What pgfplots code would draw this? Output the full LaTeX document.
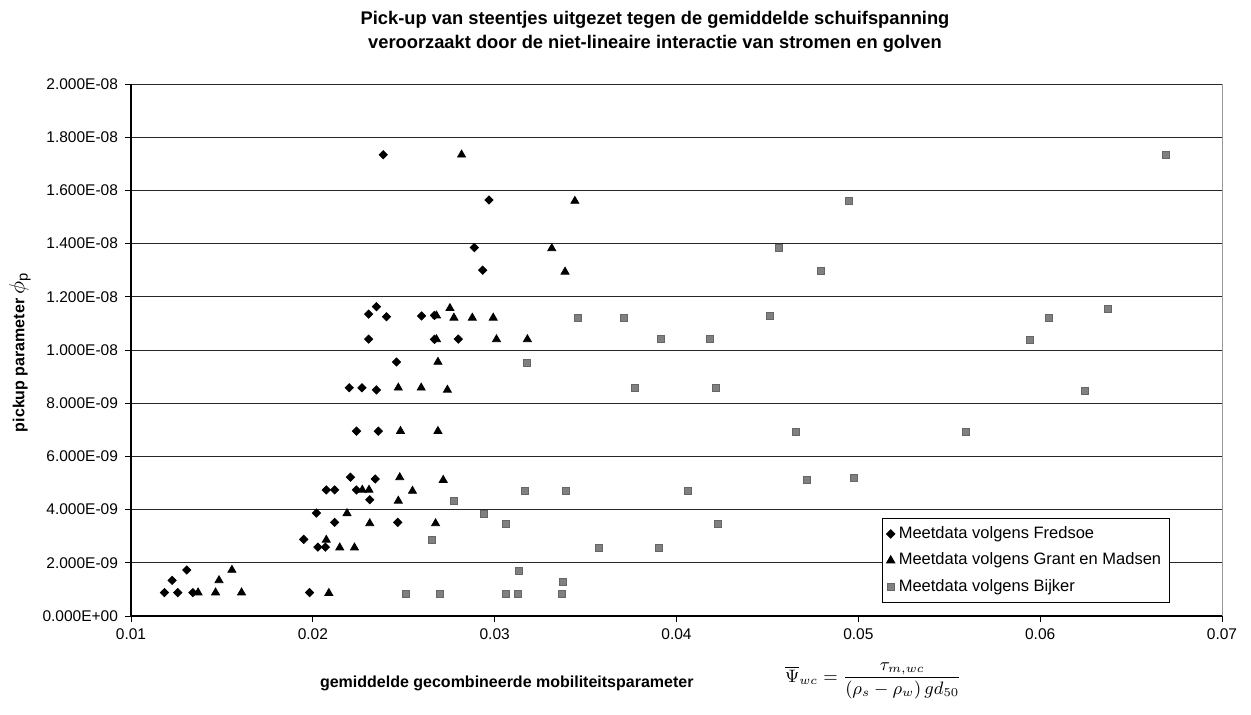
\documentclass[border=0pt]{standalone}
\usepackage{pgfplots}
\pgfplotsset{compat=1.18}
\usepackage{fontspec}
\setmainfont{Liberation Sans}

% Pick-up parameter against the mean combined mobility parameter
\pgfplotstableread{
x        y
0.02387  17.34e-9
0.02969  15.64e-9
0.02888  13.85e-9
0.02934  13.00e-9
0.02350  11.63e-9
0.02307  11.35e-9
0.02405  11.25e-9
0.02598  11.28e-9
0.02669  11.30e-9
0.02307  10.41e-9
0.02669  10.40e-9
0.02800  10.41e-9
0.02460  9.55e-9
0.02200  8.58e-9
0.02270  8.58e-9
0.02350  8.50e-9
0.02240  6.95e-9
0.02360  6.95e-9
0.02207  5.22e-9
0.02343  5.15e-9
0.02074  4.74e-9
0.02120  4.74e-9
0.02240  4.74e-9
0.02313  4.37e-9
0.02020  3.87e-9
0.02120  3.52e-9
0.02467  3.52e-9
0.01950  2.88e-9
0.02028  2.59e-9
0.02069  2.59e-9
0.01307  1.73e-9
0.01226  1.34e-9
0.01184  0.88e-9
0.01257  0.88e-9
0.01340  0.88e-9
0.01982  0.88e-9
}\fredsoe

\pgfplotstableread{
x        y
0.02818  17.34e-9
0.03441  15.60e-9
0.03314  13.82e-9
0.03387  12.94e-9
0.02754  11.57e-9
0.02680  11.29e-9
0.02776  11.21e-9
0.02877  11.21e-9
0.02992  11.21e-9
0.02680  10.40e-9
0.03010  10.40e-9
0.03180  10.40e-9
0.02688  9.55e-9
0.02470  8.58e-9
0.02596  8.58e-9
0.02740  8.50e-9
0.02482  6.95e-9
0.02688  6.95e-9
0.02478  5.21e-9
0.02717  5.11e-9
0.02272  4.74e-9
0.02309  4.74e-9
0.02548  4.70e-9
0.02470  4.33e-9
0.02188  3.86e-9
0.02313  3.48e-9
0.02675  3.48e-9
0.02074  2.86e-9
0.02148  2.57e-9
0.02229  2.57e-9
0.01555  1.73e-9
0.01484  1.34e-9
0.01369  0.88e-9
0.01465  0.88e-9
0.01608  0.88e-9
0.02088  0.86e-9
}\grantmadsen

\pgfplotstableread{
x        y
0.06693  17.33e-9
0.04949  15.60e-9
0.04563  13.82e-9
0.04792  12.97e-9
0.06372  11.54e-9
0.03459  11.21e-9
0.03710  11.21e-9
0.04515  11.29e-9
0.06047  11.19e-9
0.03914  10.40e-9
0.04181  10.40e-9
0.05946  10.39e-9
0.03176  9.52e-9
0.03771  8.56e-9
0.04218  8.56e-9
0.06247  8.45e-9
0.04658  6.91e-9
0.05591  6.91e-9
0.04976  5.20e-9
0.04717  5.11e-9
0.03167  4.70e-9
0.03394  4.70e-9
0.04063  4.70e-9
0.02776  4.33e-9
0.02940  3.83e-9
0.03064  3.48e-9
0.04227  3.48e-9
0.02656  2.86e-9
0.03575  2.57e-9
0.03905  2.57e-9
0.03134  1.69e-9
0.03373  1.29e-9
0.02510  0.83e-9
0.02697  0.83e-9
0.03064  0.83e-9
0.03130  0.83e-9
0.03368  0.83e-9
}\bijker

\begin{document}
\begin{tikzpicture}
\begin{axis}[
  at={(0,0)}, anchor=south west,
  scale only axis, width=545.5pt, height=266pt,
  xmin=0.01, xmax=0.07, ymin=0, ymax=2e-8,
  xtick={0.01,0.02,0.03,0.04,0.05,0.06,0.07},
  xticklabels={0.01,0.02,0.03,0.04,0.05,0.06,0.07},
  ytick={0,2e-9,4e-9,6e-9,8e-9,1e-8,1.2e-8,1.4e-8,1.6e-8,1.8e-8,2e-8},
  yticklabels={0.000E+00,2.000E-09,4.000E-09,6.000E-09,8.000E-09,1.000E-08,1.200E-08,1.400E-08,1.600E-08,1.800E-08,2.000E-08},
  scaled x ticks=false, scaled y ticks=false,
  axis x line*=bottom, axis y line*=left,
  axis line style={black, line width=0.6pt, -},
  tick align=outside, major tick length=3pt,
  tick style={black, line width=0.5pt},
  ymajorgrids, major grid style={black!85, line width=0.5pt},
  ticklabel style={font=\fontsize{7.75}{9}\selectfont},
  clip=false,
  legend style={at={(0.952,0.0244)}, anchor=south east, draw=black,
    line width=0.5pt, fill=white, font=\fontsize{8.25}{10}\selectfont,
    inner sep=2pt, row sep=1.8pt},
  legend cell align=left,
  legend image code/.code={\draw[#1] plot coordinates {(2pt,0pt)};},
]
\addplot[only marks, mark=square*, mark size=1.45pt, mark options={rotate=45, fill=black, draw=black}]
  table[x=x, y=y] {\fredsoe};
\addlegendentry{Meetdata volgens Fredsoe}
\addplot[only marks, mark=triangle*, mark size=2.3pt, mark options={fill=black, draw=black}]
  table[x=x, y=y] {\grantmadsen};
\addlegendentry{Meetdata volgens Grant en Madsen}
\addplot[only marks, mark=square*, mark size=1.75pt, mark options={fill=black!50, draw=black!60}]
  table[x=x, y=y] {\bijker};
\addlegendentry{Meetdata volgens Bijker}
\draw[black!40, line width=0.4pt] (rel axis cs:1,0) -- (rel axis cs:1,1);
\end{axis}
% titles and labels, placed in pixel units of the page
\begin{scope}[x=0.5pt, y=-0.5pt, shift={(-65.5pt,308pt)}]
  \path[use as bounding box] (0,0) rectangle (1251,714);
  \node[font=\bfseries\fontsize{9.15}{11}\selectfont] at (655,20)
    {Pick-up van steentjes uitgezet tegen de gemiddelde schuifspanning};
  \node[font=\bfseries\fontsize{9.15}{11}\selectfont] at (655,44)
    {veroorzaakt door de niet-lineaire interactie van stromen en golven};
  \node[font=\bfseries\fontsize{8}{10}\selectfont, anchor=west] at (313,683)
    {gemiddelde gecombineerde mobiliteitsparameter};
  \node[font=\fontsize{9}{11}\selectfont, anchor=west] at (778,681)
    {$\overline{\Psi}_{wc}=\displaystyle\frac{\tau_{m,wc}}{(\rho_s-\rho_w)\,g d_{50}}$};
  \node[font=\bfseries\fontsize{8}{10}\selectfont, rotate=90] at (20,352)
    {pickup parameter {\normalfont\fontsize{10.5}{12}\selectfont$\phi_{\mathrm{p}}$}};
\end{scope}
\end{tikzpicture}
\end{document}
